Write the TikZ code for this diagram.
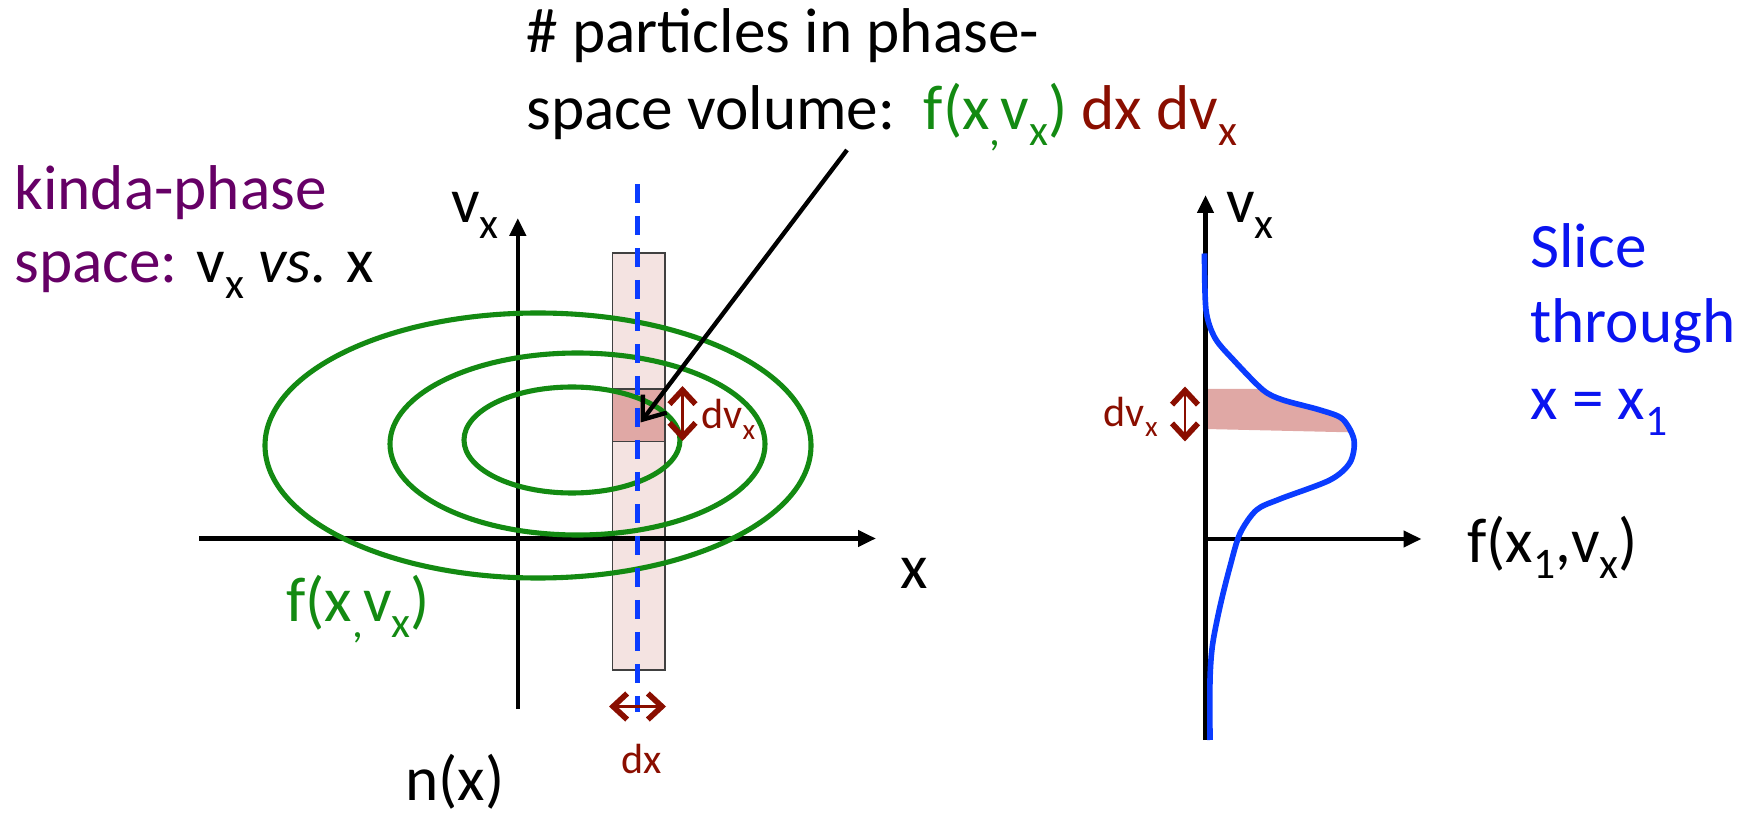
\documentclass[tikz,border=0pt]{standalone}
\usepackage{fontspec}
\setmainfont{Carlito}
\usepackage{graphicx}
\usepackage{tikz}
\usetikzlibrary{arrows.meta}
\definecolor{phpurple}{HTML}{660066}
\definecolor{phgreen}{HTML}{138A12}
\definecolor{phred}{HTML}{8A0E00}
\definecolor{phblue}{HTML}{0A3CFF}
\definecolor{phtext}{HTML}{0A14F0}
\definecolor{phpink}{HTML}{F4E3E1}
\definecolor{phrose}{HTML}{E0A8A5}
\newcommand{\lowsub}[1]{\raisebox{-0.24em}{\scalebox{0.69}{#1}}}

\begin{document}
\begin{tikzpicture}[font=\fontsize{36}{43}\selectfont,
    lbl/.style={inner sep=0pt,anchor=base west},
    smalltxt/.style={font=\fontsize{24}{29}\selectfont,phred},
    axis/.style={line width=2.6pt,-{Triangle[length=0.36cm,width=0.32cm]}},
    ring/.style={phgreen,line width=2.9pt},
    stripbox/.style={draw=black!75,line width=1.1pt},
    slice/.style={phblue,line width=2.8pt,dash pattern=on 0.38cm off 0.26cm},
    twohead/.style={phred,line width=1.6pt,
      {Straight Barb[length=0.28cm,width=0.52cm,line width=3.2pt]}-{Straight Barb[length=0.28cm,width=0.52cm,line width=3.2pt]}},
    pointer/.style={line width=2.5pt,-{Straight Barb[length=0.4cm,width=0.6cm]}}]
  \useasboundingbox (0,0) rectangle (35,-16.26);

  % labels on top and left
  \node[lbl] (title1) at (10.52,-1.06) {\# particles in phase-};
  \node[lbl] (title2) at (10.52,-2.6) {space volume:\ \ \textcolor{phgreen}{f(x\lowsub{,}v\lowsub{x})} \textcolor{phred}{dx dv\lowsub{x}}};
  \node[lbl,phpurple] (kinda) at (0.28,-4.2) {kinda-phase};
  \node[lbl] (spacevs) at (0.28,-5.66) {\textcolor{phpurple}{space:} v\lowsub{x} \textit{vs.} x};

  % left panel
  \coordinate (lbot) at (10.356,-14.18);
  \coordinate (ltop) at (10.356,-4.36);
  \coordinate (lleft) at (3.98,-10.77);
  \coordinate (lright) at (17.52,-10.77);
  \draw[stripbox,fill=phpink] (12.25,-5.06) rectangle (13.30,-13.40);
  \draw[stripbox,fill=phrose] (12.25,-7.78) rectangle (13.30,-8.83);
  \draw[axis] (lbot) -- (ltop);
  \draw[axis] (lleft) -- (lright);
  \foreach \cx/\cy/\rx/\ry in {10.76/-8.91/5.46/2.65, 11.55/-8.88/3.75/1.82, 11.44/-8.80/2.16/1.06}{
    \draw[ring] (\cx,\cy) ellipse[x radius=\rx, y radius=\ry];
  }
  \coordinate (slicetop) at (12.75,-3.68);
  \coordinate (slicebot) at (12.75,-14.24);
  \draw[slice] (slicetop) -- (slicebot);

  \node[lbl] (vxL) at (9.02,-4.46) {v\lowsub{x}};
  \node[inner sep=0pt,anchor=base] (xL) at (18.28,-11.78) {x};
  \node[lbl,phgreen] (fL) at (5.72,-12.44) {f(x\lowsub{,}v\lowsub{x})};
  \node[lbl] (nx) at (8.1,-16.0) {n(x)};

  \coordinate (dxa) at (12.18,-14.13);
  \coordinate (dxb) at (13.32,-14.13);
  \draw[twohead] (dxa) -- (dxb);
  \node[smalltxt,inner sep=0pt,anchor=base] (dxlbl) at (12.83,-15.46) {dx};

  \coordinate (dvLa) at (13.65,-7.72);
  \coordinate (dvLb) at (13.65,-8.82);
  \draw[twohead] (dvLa) -- (dvLb);
  \node[smalltxt,lbl] (dvL) at (14.02,-8.58) {dv\lowsub{x}};

  \coordinate (ptail) at (16.94,-3.0);
  \coordinate (phead) at (12.81,-8.45);
  \draw[pointer] (ptail) -- (phead);

  % right panel: slice through x = x1
  \coordinate (rbot) at (24.11,-14.8);
  \coordinate (rtop) at (24.11,-3.9);
  \coordinate (rorig) at (24.11,-10.78);
  \coordinate (rright) at (28.43,-10.78);
  \begin{scope}
    \clip (24.11,-7.78) -- (27.6,-7.78) -- (27.6,-8.66) -- (24.11,-8.58) -- cycle;
    \fill[phrose] (24.09,-5.07) -- plot[smooth] coordinates {(24.09,-5.07) (24.12,-6.2) (24.3,-6.76) (24.67,-7.2) (25.26,-7.8) (25.66,-8.0) (26.4,-8.2) (26.85,-8.38) (27.08,-8.8) (27.0,-9.25) (26.6,-9.6) (25.6,-9.98) (25.13,-10.2) (24.8,-10.67) (24.6,-11.33) (24.4,-12.13) (24.25,-12.9) (24.2,-13.6) (24.2,-14.8)} -- cycle;
  \end{scope}
  \draw[axis] (rbot) -- (rtop);
  \draw[axis] (rorig) -- (rright);
  \draw[phblue,line width=3.2pt] plot[smooth] coordinates {(24.09,-5.07) (24.12,-6.2) (24.3,-6.76) (24.67,-7.2) (25.26,-7.8) (25.66,-8.0) (26.4,-8.2) (26.85,-8.38) (27.08,-8.8) (27.0,-9.25) (26.6,-9.6) (25.6,-9.98) (25.13,-10.2) (24.8,-10.67) (24.6,-11.33) (24.4,-12.13) (24.25,-12.9) (24.2,-13.6) (24.2,-14.8)};

  \coordinate (dvRa) at (23.7,-7.73);
  \coordinate (dvRb) at (23.7,-8.83);
  \draw[twohead] (dvRa) -- (dvRb);
  \node[smalltxt,inner sep=0pt,anchor=base east] (dvR) at (23.16,-8.53) {dv\lowsub{x}};

  \node[lbl] (vxR) at (24.52,-4.46) {v\lowsub{x}};
  \node[lbl] (fR) at (29.34,-11.26) {f(x\lowsub{1},v\lowsub{x})};
  \node[lbl,phtext] (slice1) at (30.6,-5.36) {Slice};
  \node[lbl,phtext] (slice2) at (30.6,-6.86) {through};
  \node[lbl,phtext] (slice3) at (30.6,-8.40) {x = x\lowsub{1}};
\end{tikzpicture}
\end{document}
